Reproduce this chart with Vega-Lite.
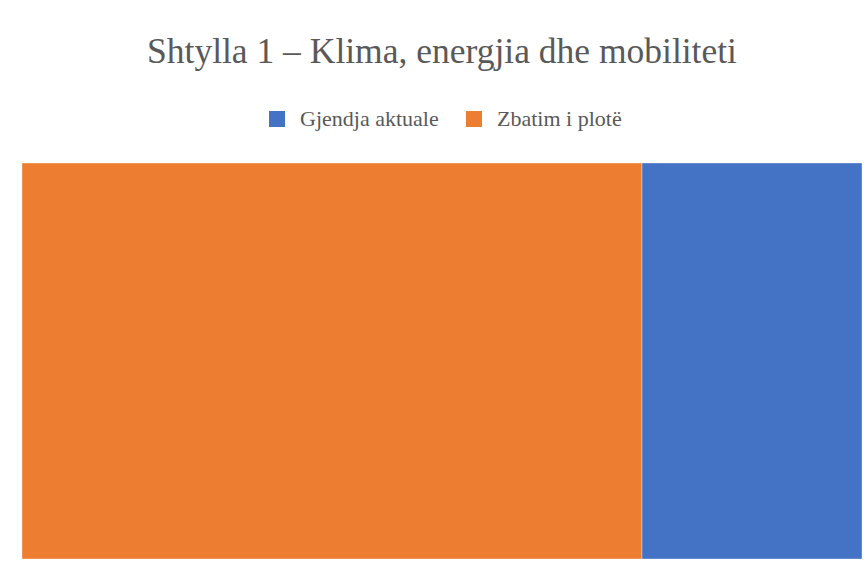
{
  "$schema": "https://vega.github.io/schema/vega-lite/v6.json",
  "autosize": "none",
  "width": 840,
  "height": 396,
  "padding": {"left": 22, "top": 163, "right": 2, "bottom": 5},
  "background": "white",
  "title": {
    "text": "Shtylla 1 – Klima, energjia dhe mobiliteti",
    "font": "Liberation Serif",
    "fontSize": 35.5,
    "fontWeight": "normal",
    "color": "#595959",
    "anchor": "middle",
    "offset": 38
  },
  "data": {
    "values": [
      {"group": "Shtylla 1", "series": "Zbatim i plotë", "value": 62, "ord": 1},
      {"group": "Shtylla 1", "series": "Gjendja aktuale", "value": 22, "ord": 2}
    ]
  },
  "mark": {"type": "bar", "stroke": "#ffffff", "strokeWidth": 0.6, "strokeOpacity": 0.6},
  "encoding": {
    "y": {"field": "group", "type": "nominal", "axis": null, "scale": {"paddingInner": 0, "paddingOuter": 0}},
    "x": {"field": "value", "type": "quantitative", "stack": "zero", "axis": null, "scale": {"domain": [0, 84], "nice": false}},
    "order": {"field": "ord", "type": "quantitative"},
    "color": {
      "field": "series",
      "type": "nominal",
      "scale": {"domain": ["Gjendja aktuale", "Zbatim i plotë"], "range": ["#4472C4", "#ED7D31"]},
      "legend": {
        "title": null,
        "orient": "none",
        "direction": "horizontal",
        "legendX": 244,
        "legendY": -55,
        "symbolType": "square",
        "symbolSize": 256,
        "symbolStrokeWidth": 0,
        "symbolOpacity": 1,
        "labelFont": "Liberation Serif",
        "labelFontSize": 22,
        "labelColor": "#595959",
        "labelOffset": 12,
        "columnPadding": 24
      }
    }
  },
  "config": {"view": {"stroke": null}}
}
